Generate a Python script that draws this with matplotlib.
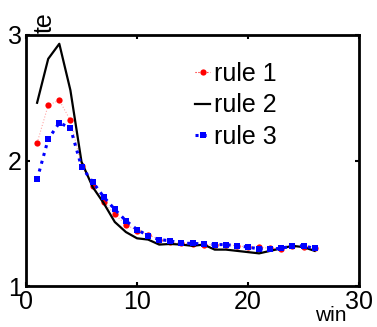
import matplotlib
matplotlib.use("Agg")
import matplotlib.pyplot as plt
import numpy as np

plt.rcParams['font.family'] = ['Liberation Sans', 'DejaVu Sans']

win = np.arange(1, 27)

rule1 = [2.14, 2.44, 2.48, 2.32, 1.96, 1.80, 1.67, 1.57, 1.49, 1.44, 1.41, 1.37,
         1.35, 1.34, 1.335, 1.33, 1.33, 1.33, 1.32, 1.31, 1.31, 1.30, 1.295, 1.32,
         1.31, 1.30]
rule2 = [2.46, 2.81, 2.93, 2.56, 1.99, 1.79, 1.66, 1.51, 1.43, 1.38, 1.37, 1.33,
         1.335, 1.33, 1.32, 1.33, 1.29, 1.29, 1.28, 1.27, 1.26, 1.28, 1.30, 1.32,
         1.31, 1.28]
rule3 = [1.85, 2.17, 2.30, 2.26, 1.95, 1.83, 1.71, 1.61, 1.52, 1.45, 1.40, 1.37,
         1.36, 1.34, 1.34, 1.335, 1.33, 1.33, 1.32, 1.31, 1.295, 1.295, 1.30, 1.32,
         1.32, 1.30]

fig = plt.figure(figsize=(3.77, 3.27), dpi=100)
ax = fig.add_axes([26 / 377, 1 - 286 / 327, 333 / 377, 251 / 327])

ax.plot(win, rule1, color='red', linestyle=':', linewidth=0.8, alpha=0.35)
ax.plot(win, rule1, 'o', color='red', markersize=4.5, markeredgewidth=0)
ax.plot(win, rule2, color='black', linewidth=1.6)
ax.plot(win, rule3, color='blue', linestyle=':', linewidth=2.2,
        marker='s', markersize=4.5, markeredgewidth=0)

# legend proxies
h1, = ax.plot([], [], color='red', linestyle=':', linewidth=0.8, marker='o',
              markersize=4.5, markeredgewidth=0, label='rule 1')
h2, = ax.plot([], [], color='black', linewidth=1.6, label='rule 2')
h3, = ax.plot([], [], color='blue', linestyle=':', linewidth=2.2, marker='s',
              markersize=4.5, markeredgewidth=0, label='rule 3')
leg = ax.legend(handles=[h1, h2, h3], loc='upper left',
                bbox_to_anchor=(195 / 377, 1 - 62 / 327),
                bbox_transform=fig.transFigure, frameon=False, fontsize=18,
                handlelength=0.6, handletextpad=0.15, labelspacing=0.3,
                borderpad=0, borderaxespad=0, numpoints=1)

ax.set_xlim(0, 30)
ax.set_ylim(1, 3)
ax.set_xticks([0, 10, 20, 30])
ax.set_yticks([1, 2, 3])
ax.tick_params(direction='in', length=3, width=1.5, labelsize=18,
               top=True, right=True, pad=3)
for s in ax.spines.values():
    s.set_linewidth(2)

fig.text(45 / 377, 1 - 23 / 327, 'te', rotation=90, fontsize=18,
         ha='center', va='center')
fig.text(331 / 377, 2 / 327, 'win', fontsize=15, ha='center', va='bottom')

fig.savefig('out.png', dpi=100)
